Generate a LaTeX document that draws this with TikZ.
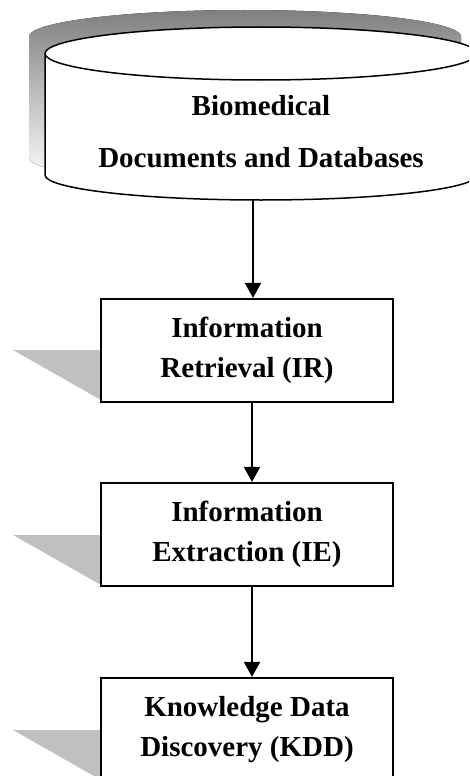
\documentclass[tikz,border=0pt]{standalone}
\usepackage{fontspec}
\setmainfont{Liberation Serif}
\usetikzlibrary{arrows.meta}
\definecolor{shade}{RGB}{192,192,192}
\tikzset{
  stagebox/.style={draw, line width=2.2pt, fill=white, minimum width=292pt, minimum height=103pt,
    align=center, inner sep=0pt, font=\fontsize{29}{40}\selectfont\bfseries},
  flowarrow/.style={line width=2pt, -{Triangle[length=15pt,width=16pt]}},
  shadowtri/.style={fill=shade, draw=none},
}
\begin{document}
\begin{tikzpicture}[x=1pt,y=-1pt]
\useasboundingbox (0,0) rectangle (469,776);
\clip (0,0) rectangle (469,776);
% cylinder shadow
\fill[shade] (29,36.5) arc[start angle=180,end angle=360,x radius=216,y radius=26.5]
  -- (461,158) arc[start angle=0,end angle=180,x radius=216,y radius=25] -- cycle;
% cylinder body
\draw[line width=1.5pt, fill=white] (45,53.5) arc[start angle=180,end angle=360,x radius=216,y radius=26.5]
  -- (477,175) arc[start angle=0,end angle=180,x radius=216,y radius=25] -- cycle;
\draw[line width=1.5pt] (45,53.5) arc[start angle=180,end angle=0,x radius=216,y radius=26.5];
\node[align=center, font=\fontsize{29}{52}\selectfont\bfseries] (db) at (261,132) {Biomedical\\Documents and Databases};
\coordinate (dbbot) at (253,200);
% triangle shadows
\fill[shadowtri] (13,350) -- (101,350) -- (101,400) -- cycle;
\fill[shadowtri] (13,535) -- (101,535) -- (101,585) -- cycle;
\fill[shadowtri] (13,730) -- (101,730) -- (101,780) -- cycle;
% boxes
\node[stagebox] (ir) at (247,350.5) {Information\\Retrieval (IR)};
\node[stagebox] (ie) at (247,534.5) {Information\\Extraction (IE)};
\node[stagebox] (kdd) at (247,729.5) {Knowledge Data\\Discovery (KDD)};
% arrows
\draw[flowarrow] (dbbot) -- (dbbot |- ir.north);
\coordinate (a2) at (252,0);
\draw[flowarrow] (a2 |- ir.south) -- (a2 |- ie.north);
\draw[flowarrow] (a2 |- ie.south) -- (a2 |- kdd.north);
\end{tikzpicture}
\end{document}
